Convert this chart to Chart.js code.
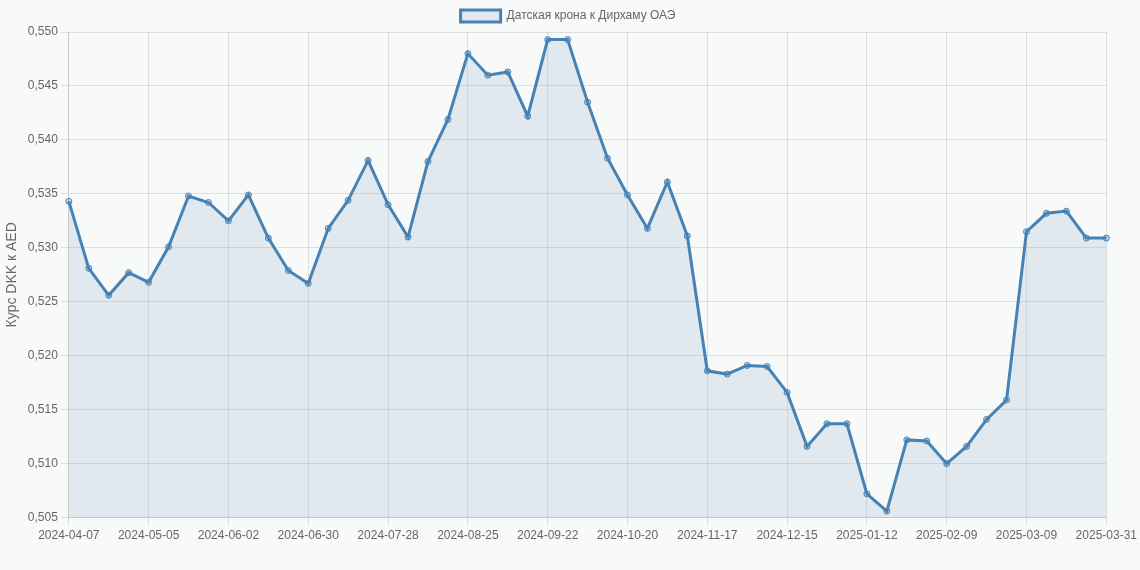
<!DOCTYPE html>
<html><head><meta charset="utf-8">
<script src="https://cdn.jsdelivr.net/npm/chart.js@4"></script>
<style>html,body{margin:0;background:#f8f9f9;}#w{width:1140px;height:570px;}</style>
</head><body><div id="w"><canvas id="c"></canvas></div>
<script>
const startDate = "2024-04-07";
const lastLabel = "2025-03-31";
const values = [0.5343,0.5281,0.5256,0.5277,0.5268,0.5301,0.5348,0.5342,0.5325,0.5349,0.5309,0.5279,0.5267,0.5318,0.5344,0.5381,0.5340,0.5310,0.5380,0.5419,0.5480,0.5460,0.5463,0.5422,0.5493,0.5493,0.5435,0.5383,0.5349,0.5318,0.5361,0.5311,0.5186,0.5183,0.5191,0.5190,0.5166,0.5116,0.5137,0.5137,0.5072,0.5056,0.5122,0.5121,0.5100,0.5116,0.5141,0.5159,0.5315,0.5332,0.5334,0.5309,0.5309];
const categories = [];
{ const d = new Date(startDate+"T00:00:00Z");
  for (let i=0;i<values.length-1;i++){ categories.push(d.toISOString().slice(0,10)); d.setUTCDate(d.getUTCDate()+7); }
  categories.push(lastLabel); }
const shown = i => i%4===0 || i===categories.length-1;
Chart.defaults.font.family = "'Liberation Sans', Arial, sans-serif";
Chart.defaults.font.size = 12;
Chart.defaults.color = "#666";
new Chart(document.getElementById('c'), {
  type:'line',
  data:{labels:categories,datasets:[{label:'Датская крона к Дирхаму ОАЭ',data:values,borderColor:'#4682b4',backgroundColor:'rgba(70,130,180,0.13)',fill:true,borderWidth:3,pointRadius:3,pointBackgroundColor:'rgba(70,130,180,0.3)',pointBorderColor:'#4682b4',pointBorderWidth:1,tension:0}]},
  options:{responsive:true,maintainAspectRatio:false,animation:false,
    layout:{padding:{right:4,bottom:24}},
    plugins:{legend:{labels:{boxWidth:40,boxHeight:12}},tooltip:{enabled:false}},
    scales:{
      x:{grid:{color:c=>shown(c.index)?'rgba(0,0,0,0.1)':'rgba(0,0,0,0)'},ticks:{autoSkip:false,maxRotation:0,callback:function(v,i){return shown(i)?categories[i]:'';}}},
      y:{min:0.505,max:0.55,grid:{color:'rgba(0,0,0,0.1)'},title:{display:true,text:'Курс DKK к AED',font:{size:14}},ticks:{stepSize:0.005,callback:v=>v.toFixed(3).replace('.',',')}}
    }}
});
</script></body></html>
